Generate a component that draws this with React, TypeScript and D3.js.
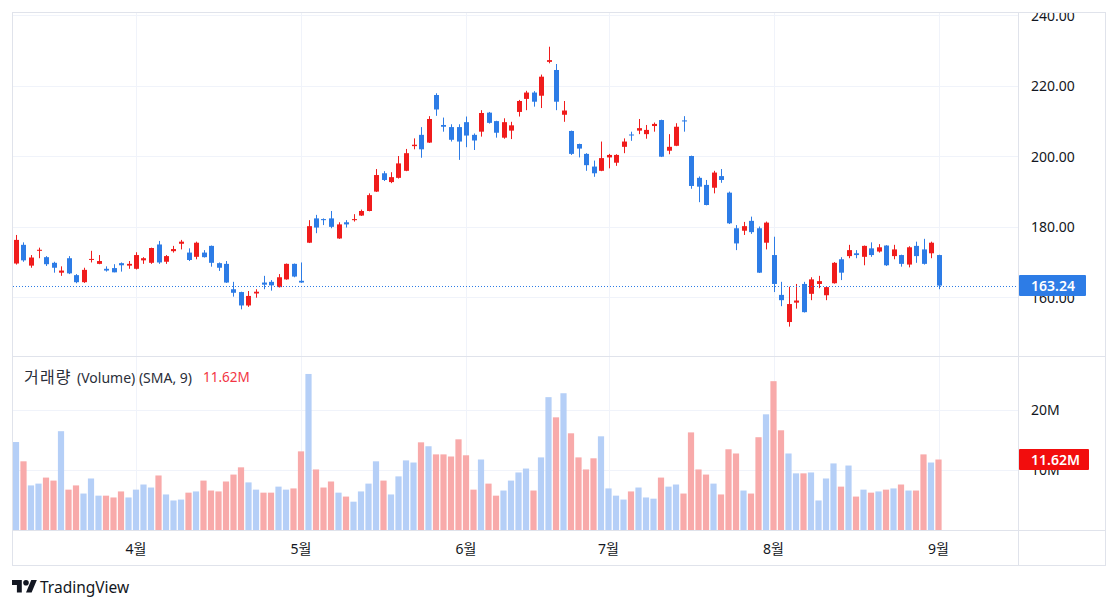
import React from "react";
import * as d3 from "d3";

// ---- data (daily candles, Mar 7 2024 .. Sep 3 2024) ----
const START_DATE = "2024-03-07";
const END_DATE = "2024-09-04";
const HOLIDAYS = ["2024-03-29", "2024-05-27", "2024-06-19", "2024-07-04", "2024-09-02"];

const OPEN = [
  169.5, 174.8, 168.9, 173.1, 171.3, 169.7, 166.9, 171.0, 166.2, 164.2,
  170.6, 169.4, 168.0, 168.2, 169.6, 168.9, 168.0, 170.4, 169.7, 174.9,
  170.0, 173.0, 175.1, 172.6, 171.4, 172.6, 174.5, 169.6, 169.4, 162.2,
  161.4, 157.6, 161.0, 164.1, 164.3, 162.8, 165.0, 169.4, 164.6, 175.4,
  182.3, 182.1, 182.3, 176.6, 181.2, 181.8, 183.1, 184.4, 189.9, 195.1,
  192.6, 193.8, 195.8, 202.8, 206.0, 203.8, 217.3, 208.8, 208.2, 208.2,
  209.6, 206.0, 206.9, 212.3, 209.9, 205.2, 207.2, 212.5, 216.2, 218.0,
  217.1, 226.7, 224.4, 211.7, 207.1, 203.4, 200.6, 197.0, 195.8, 199.6,
  198.1, 202.6, 206.1, 207.2, 206.2, 208.5, 210.2, 201.5, 202.9, 210.1,
  200.0, 193.8, 191.8, 191.0, 194.3, 189.6, 179.5, 178.8, 181.6, 179.5,
  175.4, 171.9, 160.6, 152.9, 158.4, 163.7, 160.9, 163.7, 160.5, 163.9,
  170.7, 171.6, 172.4, 171.4, 173.8, 172.9, 174.6, 171.6, 171.9, 169.2,
  174.5, 173.5, 172.4, 171.9,
];
const HIGH = [
  177.6, 175.5, 171.9, 174.0, 171.6, 170.0, 168.7, 171.6, 166.5, 168.3,
  173.1, 171.9, 168.7, 169.3, 169.8, 170.2, 172.7, 171.3, 174.0, 175.9,
  171.9, 174.5, 176.2, 173.8, 175.7, 173.3, 174.6, 169.8, 170.2, 164.3,
  161.5, 161.7, 162.2, 166.0, 164.8, 166.5, 169.5, 169.5, 169.8, 181.8,
  183.3, 182.3, 184.4, 181.2, 181.8, 183.5, 184.8, 189.4, 196.3, 195.7,
  195.4, 200.0, 202.0, 205.0, 208.2, 211.3, 217.8, 210.9, 209.0, 209.0,
  211.2, 206.4, 213.0, 212.5, 210.0, 210.7, 209.7, 215.9, 218.5, 218.4,
  223.1, 231.0, 226.1, 215.6, 207.2, 203.5, 200.8, 198.7, 204.1, 200.6,
  200.5, 205.0, 206.9, 210.5, 208.8, 209.5, 210.3, 206.2, 209.3, 211.3,
  200.1, 194.2, 193.2, 195.8, 196.3, 189.9, 180.4, 181.3, 182.8, 180.0,
  181.4, 177.1, 164.3, 162.9, 163.7, 164.3, 165.6, 166.0, 163.0, 169.9,
  171.3, 174.8, 173.3, 174.6, 175.5, 175.0, 174.7, 174.8, 172.0, 174.4,
  175.7, 176.5, 175.7, 172.0,
];
const LOW = [
  169.2, 170.0, 168.3, 171.0, 168.8, 166.9, 166.0, 166.5, 163.9, 164.0,
  169.8, 169.3, 167.2, 167.0, 167.2, 168.0, 167.8, 169.4, 169.4, 169.4,
  169.4, 172.6, 173.5, 170.2, 170.7, 171.2, 168.6, 167.4, 164.0, 160.1,
  156.5, 157.2, 159.8, 162.2, 161.8, 162.7, 164.9, 165.6, 164.0, 175.3,
  178.1, 180.4, 179.5, 176.5, 179.7, 181.4, 183.0, 184.3, 189.8, 192.9,
  192.3, 193.6, 195.7, 201.9, 199.5, 203.7, 211.4, 206.9, 204.1, 198.9,
  202.5, 201.7, 205.5, 209.2, 205.2, 204.9, 204.8, 211.2, 213.0, 214.0,
  213.6, 226.3, 213.0, 209.7, 200.3, 199.6, 195.8, 194.1, 195.7, 196.5,
  197.2, 200.8, 204.3, 206.2, 204.9, 206.9, 199.7, 200.5, 202.8, 206.9,
  190.7, 186.9, 186.0, 189.4, 192.4, 180.7, 173.3, 177.6, 177.9, 166.8,
  173.5, 161.4, 157.4, 151.6, 156.7, 155.6, 159.1, 162.5, 159.1, 163.8,
  164.8, 171.0, 171.0, 169.0, 171.4, 172.6, 168.8, 170.7, 168.6, 168.4,
  169.7, 169.2, 171.0, 162.2,
];
const CLOSE = [
  176.2, 170.4, 171.2, 173.4, 169.3, 168.3, 167.5, 166.7, 164.2, 167.7,
  170.8, 170.2, 167.5, 167.0, 169.0, 169.4, 171.9, 171.0, 173.9, 169.8,
  171.6, 173.6, 175.7, 170.5, 175.4, 171.3, 169.7, 168.3, 164.1, 161.2,
  157.6, 160.3, 161.5, 163.5, 163.3, 165.6, 169.4, 165.8, 164.1, 180.1,
  179.7, 181.8, 179.9, 180.6, 180.6, 182.1, 184.4, 188.9, 194.6, 193.2,
  194.0, 197.9, 200.8, 203.2, 201.9, 210.5, 213.2, 208.3, 204.6, 204.1,
  205.8, 204.4, 212.2, 209.4, 206.6, 209.6, 208.7, 215.6, 218.0, 215.4,
  222.5, 227.2, 215.4, 212.9, 200.6, 202.1, 197.4, 195.1, 199.4, 200.3,
  200.3, 204.1, 205.9, 207.9, 207.4, 209.1, 199.8, 202.6, 208.3, 209.8,
  191.5, 191.3, 186.1, 195.3, 193.2, 180.9, 175.2, 180.1, 178.4, 166.9,
  181.1, 163.7, 159.1, 158.0, 159.0, 155.7, 165.0, 164.5, 162.8, 169.7,
  166.9, 173.3, 171.9, 174.5, 171.9, 174.1, 169.0, 173.5, 169.4, 174.1,
  171.6, 169.4, 175.4, 163.24,
];
// volume in millions
const VOLUME = [
  14.6, 11.4, 7.4, 7.7, 8.7, 8.2, 16.4, 6.7, 7.4, 6.05,
  8.55, 5.7, 5.7, 5.4, 6.4, 5.4, 6.7, 7.55, 7.05, 9.05,
  5.9, 4.9, 5.05, 6.2, 6.4, 8.2, 6.55, 6.4, 8.05, 9.2,
  10.4, 7.9, 6.7, 6.2, 6.2, 7.2, 6.7, 6.9, 13.05, 25.9,
  10.05, 7.05, 8.05, 6.2, 5.55, 4.7, 6.4, 7.7, 11.4, 8.2,
  5.9, 8.9, 11.55, 11.2, 14.55, 13.9, 12.55, 12.55, 12.2, 15.05,
  12.4, 6.7, 11.7, 7.7, 5.7, 6.55, 8.2, 9.55, 10.2, 6.55,
  12.05, 22.05, 18.7, 22.7, 16.05, 12.05, 10.05, 11.9, 15.55, 6.9,
  5.7, 5.05, 6.4, 7.05, 5.4, 5.2, 8.7, 7.2, 7.55, 6.05,
  16.2, 10.05, 9.2, 7.7, 5.9, 13.4, 12.7, 6.55, 6.05, 15.4,
  19.2, 24.7, 16.55, 12.7, 9.4, 9.4, 9.55, 4.9, 8.55, 11.05,
  7.2, 10.7, 5.55, 6.7, 6.2, 6.4, 6.7, 6.9, 7.55, 6.55,
  6.55, 12.55, 11.2, 11.7,
];
const PRICE_TICKS = [160, 180, 200, 220, 240];
const VOLUME_TICKS = [10, 20];
const LAST_PRICE_LABEL = "163.24";
const LAST_VOLUME_LABEL = "11.62M";
const LEGEND_KO = "거래량";
const LEGEND_REST = "(Volume) (SMA, 9)";

// ---- styling ----
const UP = "#f01c1c";
const DOWN = "#2d7ce6";
const VOL_UP = "#b5cff7";
const VOL_DOWN = "#f8aaaa";
const GRID = "#f0f3fa";
const BORDER = "#e0e3eb";
const TEXT = "#131722";
const FONT = "'Noto Sans', 'Noto Sans CJK KR', sans-serif";

const L = 13, R = 1018, AXR = 1105;
const PT = 13, PB = 356, VB = 530, TB = 565;

export default function App() {
  const fmt = d3.timeFormat("%Y-%m-%d");
  const parse = d3.timeParse("%Y-%m-%d");
  const dates = d3
    .timeDay.range(parse(START_DATE)!, parse(END_DATE)!)
    .filter((d) => d.getDay() !== 0 && d.getDay() !== 6 && !HOLIDAYS.includes(fmt(d)));
  const n = Math.min(dates.length, CLOSE.length);
  const idx = d3.range(n);

  const x = d3.scaleLinear().domain([-0.4, 133.6]).range([L, R]);
  const y = d3.scaleLinear().domain([160, 240]).range([297, 15]);
  const yv = d3.scaleLinear().domain([0, 20]).range([VB, 409.5]);

  const monthTicks = idx.filter((i) => i > 0 && dates[i].getMonth() !== dates[i - 1].getMonth());

  const lastY = y(CLOSE[n - 1]);
  const lastVY = yv(VOLUME[n - 1]);

  return (
    <svg
      width={1118}
      height={609}
      style={{ position: "absolute", left: 0, top: 0, background: "#fff" }}
      fontFamily={FONT}
    >
      <defs>
        <clipPath id="pricePane">
          <rect x={L} y={PT} width={R - L} height={PB - PT} />
        </clipPath>
        <clipPath id="volPane">
          <rect x={L} y={PB} width={R - L} height={VB - PB} />
        </clipPath>
        <clipPath id="priceAxis">
          <rect x={R} y={PT} width={AXR - R} height={PB - PT} />
        </clipPath>
        <clipPath id="volAxis">
          <rect x={R} y={PB} width={AXR - R} height={VB - PB} />
        </clipPath>
      </defs>

      {/* grid */}
      <g clipPath="url(#pricePane)">
        {PRICE_TICKS.map((t) => (
          <line key={t} x1={L} x2={R} y1={Math.round(y(t)) + 0.5} y2={Math.round(y(t)) + 0.5} stroke={GRID} />
        ))}
      </g>
      <g clipPath="url(#volPane)">
        {VOLUME_TICKS.map((t) => (
          <line key={t} x1={L} x2={R} y1={Math.round(yv(t)) + 0.5} y2={Math.round(yv(t)) + 0.5} stroke={GRID} />
        ))}
      </g>
      {monthTicks.map((i) => (
        <g key={i}>
          <line x1={Math.round(x(i)) + 0.5} x2={Math.round(x(i)) + 0.5} y1={PT} y2={PB} stroke={GRID} />
          <line x1={Math.round(x(i)) + 0.5} x2={Math.round(x(i)) + 0.5} y1={PB} y2={VB} stroke={GRID} />
        </g>
      ))}

      {/* volume bars */}
      <g clipPath="url(#volPane)">
        {idx.map((i) => {
          const up = CLOSE[i] >= OPEN[i];
          const cx = x(i);
          return (
            <rect
              key={i}
              x={cx - 3.1}
              width={6.2}
              y={yv(VOLUME[i])}
              height={yv(0) - yv(VOLUME[i])}
              fill={up ? VOL_UP : VOL_DOWN}
            />
          );
        })}
      </g>

      {/* candles */}
      <g clipPath="url(#pricePane)">
        {idx.map((i) => {
          const up = CLOSE[i] >= OPEN[i];
          const c = up ? UP : DOWN;
          const cx = Math.round(x(i));
          const top = y(Math.max(OPEN[i], CLOSE[i]));
          const bot = y(Math.min(OPEN[i], CLOSE[i]));
          return (
            <g key={i}>
              <line x1={cx + 0.5} x2={cx + 0.5} y1={y(HIGH[i])} y2={y(LOW[i])} stroke={c} strokeWidth={1} />
              <rect x={cx - 2} width={5} y={top} height={Math.max(1, bot - top)} fill={c} />
            </g>
          );
        })}
        <line
          x1={L}
          x2={R}
          y1={Math.round(lastY) + 0.5}
          y2={Math.round(lastY) + 0.5}
          stroke={DOWN}
          strokeDasharray="1 2"
        />
      </g>

      {/* borders */}
      <rect x={L - 0.5} y={PT - 0.5} width={AXR - L + 1} height={TB - PT + 1} fill="none" stroke={BORDER} />
      <line x1={L} x2={AXR} y1={PB + 0.5} y2={PB + 0.5} stroke={BORDER} />
      <line x1={L} x2={AXR} y1={VB + 0.5} y2={VB + 0.5} stroke={BORDER} />
      <line x1={R + 0.5} x2={R + 0.5} y1={PT} y2={TB} stroke={BORDER} />

      {/* price axis */}
      <g clipPath="url(#priceAxis)" fontSize={14} fill={TEXT}>
        {PRICE_TICKS.map((t) => (
          <text key={t} x={1031} y={y(t)} dominantBaseline="central">
            {d3.format(".2f")(t)}
          </text>
        ))}
        <rect x={R + 1} y={lastY - 10.5} width={67} height={21} fill={DOWN} rx={1} />
        <text x={1031} y={lastY} dominantBaseline="central" fill="#fff" fontWeight={600}>
          {LAST_PRICE_LABEL}
        </text>
      </g>

      {/* volume axis */}
      <g clipPath="url(#volAxis)" fontSize={14} fill={TEXT}>
        {VOLUME_TICKS.map((t) => (
          <text key={t} x={1031} y={yv(t)} dominantBaseline="central">
            {`${t}M`}
          </text>
        ))}
        <rect x={R + 1} y={lastVY - 10.5} width={70} height={21} fill="#f20d0d" rx={1} />
        <text x={1031} y={lastVY} dominantBaseline="central" fill="#fff" fontWeight={600}>
          {LAST_VOLUME_LABEL}
        </text>
      </g>

      {/* legend */}
      <text x={24} y={377} dominantBaseline="central" fontSize={16} letterSpacing={1.2} fill="#2a2e39">
        {LEGEND_KO}
      </text>
      <text x={77} y={377} dominantBaseline="central" fontSize={14} fill="#2a2e39">
        {LEGEND_REST}
      </text>
      <text x={203} y={377} dominantBaseline="central" fontSize={13.5} fill="#f23645">
        {LAST_VOLUME_LABEL}
      </text>

      {/* time axis */}
      <g fontSize={14} fill={TEXT}>
        {monthTicks.map((i) => (
          <text key={i} x={x(i)} y={548} textAnchor="middle" dominantBaseline="central">
            {`${dates[i].getMonth() + 1}월`}
          </text>
        ))}
      </g>

      {/* TradingView logo */}
      <g transform="translate(12,577.2) scale(0.7)" fill={TEXT}>
        <path d="M14 22H7V11H0V4h14v18zM28 22h-8l7.5-18h8L28 22z" />
        <circle cx={20} cy={8} r={4} />
      </g>
      <text x={40} y={587} dominantBaseline="central" fontSize={15.5} fill={TEXT}>
        TradingView
      </text>
    </svg>
  );
}
